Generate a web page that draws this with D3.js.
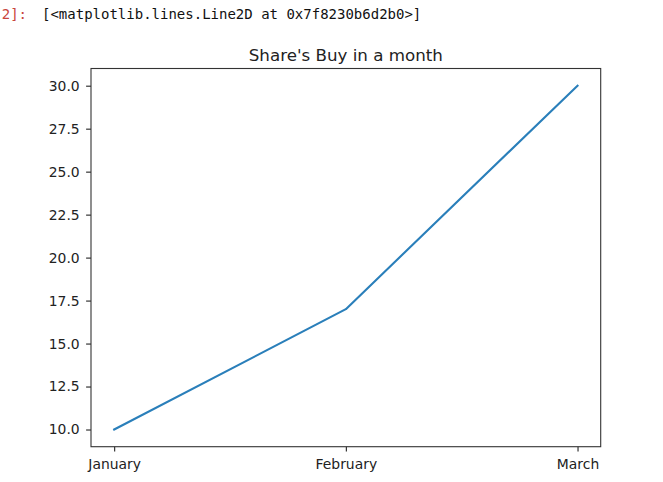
<!DOCTYPE html>
<html>
<head>
<meta charset="utf-8">
<script src="https://cdn.jsdelivr.net/npm/d3@7"></script>
<style>
  body { margin: 0; background: #fff; }
  svg { display: block; }
</style>
</head>
<body>
<svg id="chart" width="663" height="482"></svg>
<script>
// data
const months = ["January", "February", "March"]
const shares = [10, 17, 30]
const yTicks = [10, 12.5, 15, 17.5, 20, 22.5, 25, 27.5, 30]
const promptText = "[2]:"
const reprText = "[<matplotlib.lines.Line2D at 0x7f8230b6d2b0>]"
const title = "Share's Buy in a month"

const svg = d3.select("#chart")

// notebook output line (prompt is clipped at the left edge like the screenshot)
svg.append("text")
  .attr("x", 27).attr("y", 19)
  .attr("text-anchor", "end")
  .style("font-family", "DejaVu Sans Mono")
  .style("font-size", "14px")
  .attr("fill", "#c9463d")
  .text(promptText)

svg.append("text")
  .attr("x", 42).attr("y", 19)
  .style("font-family", "DejaVu Sans Mono")
  .style("font-size", "14px")
  .attr("fill", "#111")
  .text(reprText)

// axes box
const box = { left: 91, right: 600.7, top: 68.5, bottom: 446.7 }

// matplotlib margins: 5% of span each side -> index range [-0.1, 2.1]
const xi = d3.scaleLinear().domain([-0.1, 2.1]).range([box.left, box.right])
const xPos = (d) => xi(months.indexOf(d))

const y = d3.scaleLinear()
  .domain([9, 31])
  .range([box.bottom, box.top])

const tickLen = 4.9
const tickPad = 4.9
const font = "DejaVu Sans"

// y axis
const yAxis = svg.append("g")
  .attr("transform", `translate(${box.left},0)`)
  .call(d3.axisLeft(y).tickValues(yTicks).tickFormat(d3.format(".1f"))
    .tickSize(tickLen).tickPadding(tickPad))
yAxis.select(".domain").remove()
yAxis.selectAll("line").attr("stroke", "#222").attr("stroke-width", 1.1)
yAxis.selectAll("text")
  .attr("x", -(tickLen + tickPad + 1.5))
  .style("font-family", font).style("font-size", "13.9px").attr("fill", "#222")

// x axis, ticks placed on index scale
const xAxisScale = d3.scaleOrdinal().domain(months).range(months.map(xPos))
const xAxis = svg.append("g")
  .attr("transform", `translate(0,${box.bottom})`)
  .call(d3.axisBottom(xAxisScale).tickSize(tickLen).tickPadding(tickPad))
xAxis.select(".domain").remove()
xAxis.selectAll("line").attr("stroke", "#222").attr("stroke-width", 1.1)
xAxis.selectAll("text")
  .attr("y", tickLen + tickPad + 2.5)
  .style("font-family", font).style("font-size", "13.9px").attr("fill", "#222")

// spines
svg.append("rect")
  .attr("x", box.left).attr("y", box.top)
  .attr("width", box.right - box.left).attr("height", box.bottom - box.top)
  .attr("fill", "none")
  .attr("stroke", "#333")
  .attr("stroke-width", 1.1)

// the line
const line = d3.line()
  .x((d, i) => xPos(months[i]))
  .y(d => y(d))

svg.append("path")
  .datum(shares)
  .attr("d", line)
  .attr("fill", "none")
  .attr("stroke", "#2a7fba")
  .attr("stroke-width", 2.1)
  .attr("stroke-linejoin", "round")
  .attr("stroke-linecap", "square")

// title
svg.append("text")
  .attr("x", (box.left + box.right) / 2)
  .attr("y", 61)
  .attr("text-anchor", "middle")
  .style("font-family", font)
  .style("font-size", "16.7px")
  .attr("fill", "#222")
  .text(title)
</script>
</body>
</html>
